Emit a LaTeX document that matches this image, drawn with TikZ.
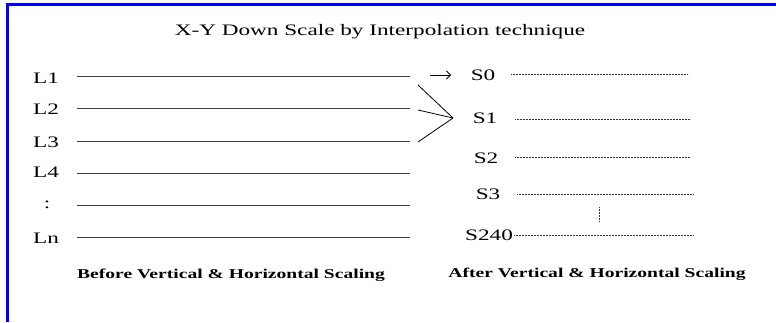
\documentclass[tikz,border=0pt]{standalone}
\usepackage{fontspec}
\setmainfont{Liberation Serif}[FakeStretch=1.45]
\usetikzlibrary{arrows.meta}

\tikzset{
  scanline/.style={black!75, line width=0.9pt},
  outline/.style={black!80, dash pattern=on 0.7pt off 0.8pt, line width=0.7pt},
  lbl/.style={font=\fontsize{16}{18}\selectfont, inner sep=0pt},
  capt/.style={font=\fontsize{13.5}{16}\selectfont\bfseries, inner sep=0pt, anchor=base}
}

\begin{document}
\begin{tikzpicture}[x=1pt,y=-1pt]
    \useasboundingbox (0,0) rectangle (776,322);
    \draw[blue, line width=3pt] (7.5,322) -- (7.5,4.5) -- (776,4.5);

    \node[anchor=base, inner sep=0pt, font=\fontsize{16}{18}\selectfont] (title) at (380,35) {X-Y Down Scale by Interpolation technique};

    % lines before scaling
    \node[lbl] (l1) at (46,78) {L1};
    \node[lbl] (l2) at (46,109) {L2};
    \node[lbl] (l3) at (46,142) {L3};
    \node[lbl] (l4) at (46,172) {L4};
    \node[lbl] (ldots) at (47,205) {:};
    \node[lbl] (ln) at (46,238) {Ln};
    \draw[scanline] (77,76) -- (410,76);
    \draw[scanline] (77,108) -- (410,108);
    \draw[scanline] (77,141) -- (410,141);
    \draw[scanline] (77,173) -- (410,173);
    \draw[scanline] (77,205) -- (410,205);
    \draw[scanline] (77,237) -- (410,237);

    % lines after scaling
    \node[lbl] (s0) at (483,75) {S0};
    \node[lbl] (s1) at (485,118) {S1};
    \node[lbl] (s2) at (486,158) {S2};
    \node[lbl] (s3) at (488,194) {S3};
    \node[lbl] (s240) at (489,235) {S240};
    \draw[outline] (511,74) -- (688,74);
    \draw[outline] (515,119) -- (690,119);
    \draw[outline] (515,157) -- (690,157);
    \draw[outline] (517,194) -- (693,194);
    \draw[outline] (s240.east) ++(1,0) -- (693,235);
    \draw[outline] (599,207) -- (599,222);

    % mapping
    \coordinate (tip) at (453,118);
    \draw[black, line width=0.8pt, -{Straight Barb[length=4pt,width=8pt]}] (430,75) -- (451,75);
    \draw[black, line width=0.8pt] (418,85) -- (tip);
    \draw[black, line width=0.8pt] (418,110) -- (tip);
    \draw[black, line width=0.8pt] (418,142) -- (tip);

    \node[capt] (before) at (231,278) {Before Vertical \& Horizontal Scaling};
    \node[capt] (after) at (597,277) {After Vertical \& Horizontal Scaling};
\end{tikzpicture}
\end{document}
